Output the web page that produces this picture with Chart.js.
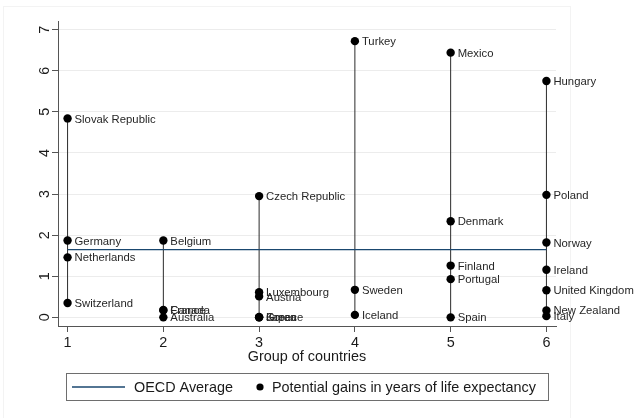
<!DOCTYPE html>
<html>
<head>
<meta charset="utf-8">
<script src="https://cdn.jsdelivr.net/npm/chart.js@4/dist/chart.umd.min.js"></script>
<style>
  html, body { margin: 0; padding: 0; background: #ffffff; }
  #wrap { position: relative; width: 638px; height: 418px; }
</style>
</head>
<body>
<div id="wrap"><canvas id="c"></canvas></div>
<script>
// ---- Data ----
const countries = [
  "Slovak Republic", "Germany", "Netherlands", "Switzerland",
  "Belgium", "Canada", "France", "Australia",
  "Czech Republic", "Luxembourg", "Austria", "Greece", "Japan", "Korea",
  "Turkey", "Sweden", "Iceland",
  "Mexico", "Denmark", "Finland", "Portugal", "Spain",
  "Hungary", "Poland", "Norway", "Ireland", "United Kingdom", "New Zealand", "Italy"
];
const groups = [
  1, 1, 1, 1,
  2, 2, 2, 2,
  3, 3, 3, 3, 3, 3,
  4, 4, 4,
  5, 5, 5, 5, 5,
  6, 6, 6, 6, 6, 6, 6
];
const gains = [
  4.84, 1.87, 1.46, 0.35,
  1.87, 0.18, 0.17, 0.00,
  2.95, 0.61, 0.51, 0.00, 0.01, 0.00,
  6.72, 0.67, 0.06,
  6.44, 2.34, 1.26, 0.93, 0.00,
  5.75, 2.98, 1.82, 1.16, 0.66, 0.17, 0.03
];
const oecdAverage = 1.65;
const groupTicks = [1, 2, 3, 4, 5, 6];
const valueTicks = [0, 1, 2, 3, 4, 5, 6, 7];

const FONT = "'Liberation Sans', Arial, Helvetica, sans-serif";
const AVG_COLOR = "#1a476f";

// per-group spike (min to max) datasets built from the data
const spikeSets = groupTicks.map(g => {
  const vals = gains.filter((v, i) => groups[i] === g);
  return {
    type: 'line',
    label: 'spike' + g,
    data: [{x: g, y: Math.min(...vals)}, {x: g, y: Math.max(...vals)}],
    borderColor: '#2b2b2b',
    borderWidth: 1,
    pointRadius: 0,
    fill: false,
    order: 3
  };
});

const pointData = gains.map((v, i) => ({x: groups[i], y: v, name: countries[i]}));

const labelPlugin = {
  id: 'pointLabels',
  afterDatasetsDraw(chart) {
    const idx = chart.data.datasets.findIndex(d => d.label === 'Potential gains in years of life expectancy');
    const meta = chart.getDatasetMeta(idx);
    const ctx = chart.ctx;
    ctx.save();
    ctx.font = "11.3px " + FONT;
    ctx.fillStyle = '#262626';
    ctx.textAlign = 'left';
    ctx.textBaseline = 'middle';
    meta.data.forEach((el, i) => {
      ctx.fillText(chart.data.datasets[idx].data[i].name, el.x + 7, el.y + 1);
    });
    ctx.restore();
  }
};

const frameLegendPlugin = {
  id: 'frameLegend',
  beforeDraw(chart) {
    const ctx = chart.ctx;
    ctx.save();
    ctx.strokeStyle = '#f3f3f3';
    ctx.lineWidth = 1;
    ctx.strokeRect(3.5, 6.5, 567, 420);
    ctx.restore();
  },
  afterDraw(chart) {
    const ctx = chart.ctx;
    ctx.save();
    // legend box
    ctx.strokeStyle = '#6e6e6e';
    ctx.lineWidth = 1;
    ctx.strokeRect(66.5, 373.5, 482, 27);
    const cy = 387;
    ctx.strokeStyle = AVG_COLOR;
    ctx.lineWidth = 1.3;
    ctx.beginPath();
    ctx.moveTo(72, cy);
    ctx.lineTo(125, cy);
    ctx.stroke();
    ctx.fillStyle = '#000';
    ctx.beginPath();
    ctx.arc(260, cy, 3.6, 0, Math.PI * 2);
    ctx.fill();
    ctx.font = "14.4px " + FONT;
    ctx.fillStyle = '#1a1a1a';
    ctx.textBaseline = 'middle';
    ctx.textAlign = 'left';
    ctx.fillText('OECD Average', 134, cy + 1);
    ctx.fillText('Potential gains in years of life expectancy', 272, cy + 1);
    ctx.restore();
  }
};

new Chart(document.getElementById('c'), {
  type: 'scatter',
  data: {
    datasets: [
      {
        type: 'line',
        label: 'OECD Average',
        data: [{x: groupTicks[0], y: oecdAverage}, {x: groupTicks[groupTicks.length - 1], y: oecdAverage}],
        borderColor: AVG_COLOR,
        borderWidth: 1.3,
        pointRadius: 0,
        fill: false,
        order: 2
      },
      ...spikeSets,
      {
        type: 'scatter',
        label: 'Potential gains in years of life expectancy',
        data: pointData,
        backgroundColor: '#000',
        borderColor: '#000',
        borderWidth: 0,
        pointRadius: 4.2,
        pointHoverRadius: 4.2,
        order: 1
      }
    ]
  },
  options: {
    responsive: true,
    maintainAspectRatio: false,
    animation: false,
    events: [],
    layout: { padding: { left: 18, right: 82, top: 21, bottom: 52 } },
    plugins: {
      legend: { display: false },
      tooltip: { enabled: false }
    },
    scales: {
      x: {
        type: 'linear',
        min: 0.9,
        max: 6.1,
        afterBuildTicks: s => { s.ticks = groupTicks.map(v => ({value: v})); },
        afterFit: s => { s.height = 40; },
        grid: { drawOnChartArea: false, drawTicks: true, tickLength: 6, tickColor: '#555', lineWidth: 1 },
        border: { color: '#555', width: 1 },
        ticks: { font: { family: FONT, size: 14.4 }, color: '#1a1a1a', padding: 2, maxRotation: 0 },
        title: { display: true, text: 'Group of countries', font: { family: FONT, size: 14.4 }, color: '#1a1a1a', padding: { top: 0, bottom: 0 } }
      },
      y: {
        type: 'linear',
        min: -0.21,
        max: 7.21,
        afterBuildTicks: s => { s.ticks = valueTicks.map(v => ({value: v})); },
        afterFit: s => { s.width = 40; },
        grid: { color: '#ececec', lineWidth: 1, drawTicks: true, tickLength: 6, tickColor: '#555' },
        border: { color: '#555', width: 1 },
        ticks: { font: { family: FONT, size: 14.4 }, color: '#1a1a1a', padding: 3, minRotation: 90, maxRotation: 90, crossAlign: 'center' }
      }
    }
  },
  plugins: [labelPlugin, frameLegendPlugin]
});
</script>
</body>
</html>
